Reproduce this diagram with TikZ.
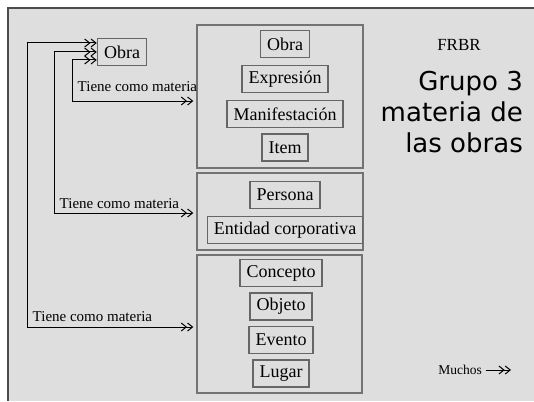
\documentclass[tikz,border=0pt]{standalone}
\usepackage{fontspec}
\setmainfont{Liberation Serif}
\newfontfamily\titlefont{DejaVu Sans}
\usepackage{tikz}
\usetikzlibrary{positioning,arrows.meta,calc}

\begin{document}
\begin{tikzpicture}[x=1pt,y=-1pt,>={Straight Barb[length=5pt,width=8pt,line width=1pt]},
  ent/.style={draw=black!60,line width=1.5pt,font=\fontsize{18}{21}\selectfont,
              minimum height=27pt,inner xsep=6.5pt,inner ysep=2pt},
  grp/.style={draw=black!55,line width=1.3pt},
  lbl/.style={font=\fontsize{15}{17}\selectfont,inner sep=0pt,anchor=base west},
  rel/.style={<<->>,line width=1pt,shorten >=3pt},
  node distance=6.5pt]
\useasboundingbox (0,0) rectangle (534,401);
\fill[black!13] (8,8) rectangle (534,401);
\draw[black!70,line width=1.5pt] (8,401) -- (8,8) -- (534,8);
% the three groups
\node[grp,minimum width=166pt,minimum height=143pt] (grp1) at (280,96.5) {};
\node[grp,minimum width=166pt,minimum height=77pt] (grp2) at (280,211.5) {};
\node[grp,minimum width=165pt,minimum height=138pt] (grp3) at (279.5,324) {};
% group 1
\node[ent] (obra) at (285,44) {Obra};
\node[ent,below=of obra] (expr) {Expresión};
\node[ent,below=of expr] (manif) {Manifestación};
\node[ent,below=5pt of manif] (item) {Item};
% group 2
\node[ent] (pers) at (285,195) {Persona};
\node[ent,below=of pers] (entc) {Entidad corporativa};
% group 3
\node[ent] (conc) at (281,273) {Concepto};
\node[ent,below=5pt of conc] (obj) {Objeto};
\node[ent,below=5pt of obj] (evt) {Evento};
\node[ent,below=5pt of evt] (lug) {Lugar};
% obra on the left and its relations
\node[ent] (obraL) at (122,52) {Obra};
\coordinate (k1) at (72,101);
\coordinate (k2) at (54,213);
\coordinate (k3) at (27,327);
\foreach \dy/\k/\g in {-8pt/k1/grp1,0pt/k2/grp2,9pt/k3/grp3}
  \draw[rel] ([yshift=\dy]obraL.west) -| (\k) -- (\k -| \g.west);
\foreach \k/\n/\up in {k1/l1/9pt,k2/l2/5pt,k3/l3/6pt}
  \node[lbl] (\n) at ([shift={(5.5pt,\up)}]\k) {Tiene como materia};
% titles
\node[font=\fontsize{17}{20}\selectfont] (frbr) at (459,45) {FRBR};
\node[font=\titlefont\fontsize{26}{31}\selectfont,align=right,inner sep=0pt,
      anchor=east] (ttl) at (523,112) {Grupo 3\\materia de\\las obras};
% legend
\node[font=\fontsize{13.5}{16}\selectfont,inner sep=0pt] (much) at (460,370) {Muchos};
\coordinate (muchEnd) at (511,370);
\draw[->>,line width=1pt,shorten <=4pt] (much) -- (muchEnd);
\end{tikzpicture}
\end{document}
